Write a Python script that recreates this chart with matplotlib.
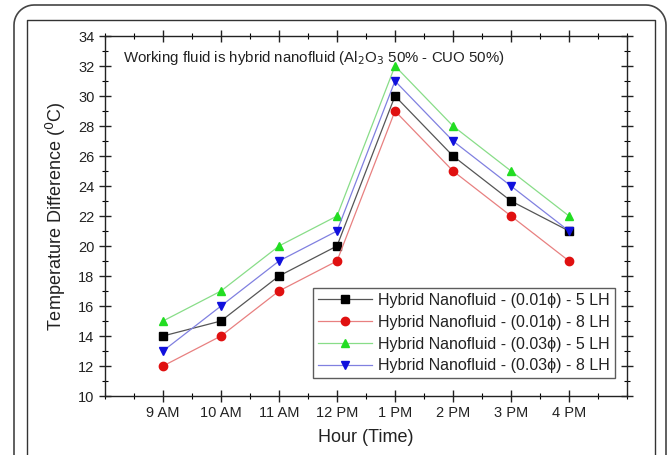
import matplotlib
matplotlib.use("Agg")
import matplotlib.pyplot as plt
from matplotlib.patches import PathPatch
from matplotlib.path import Path
from matplotlib.lines import Line2D
from matplotlib.ticker import MultipleLocator, FixedLocator
import numpy as np

plt.rcParams['font.family'] = ['Liberation Sans', 'DejaVu Sans']

hours = ["9 AM", "10 AM", "11 AM", "12 PM", "1 PM", "2 PM", "3 PM", "4 PM"]
s_001_5 = [14, 15, 18, 20, 30, 26, 23, 21]
s_001_8 = [12, 14, 17, 19, 29, 25, 22, 19]
s_003_5 = [15, 17, 20, 22, 32, 28, 25, 22]
s_003_8 = [13, 16, 19, 21, 31, 27, 24, 21]
labels = ["Hybrid Nanofluid - (0.01\u03d5) - 5 LH",
          "Hybrid Nanofluid - (0.01\u03d5) - 8 LH",
          "Hybrid Nanofluid - (0.03\u03d5) - 5 LH",
          "Hybrid Nanofluid - (0.03\u03d5) - 8 LH"]

W, H = 671, 455
fig = plt.figure(figsize=(W / 100, H / 100), dpi=100)

# outer rounded frame (pixel coordinates, y down) drawn as a path
def px(xp, yp):
    return (xp / W, 1 - yp / H)

L, R, T, B, r = 14, 666, 5, 470, 20
th = np.linspace(np.pi, np.pi / 2, 12)
pts = [px(L, B)]
pts += [px(L + r + r * np.cos(t), T + r - r * np.sin(t)) for t in th]
th2 = np.linspace(np.pi / 2, 0, 12)
pts += [px(R - r + r * np.cos(t), T + r - r * np.sin(t)) for t in th2]
pts += [px(R, B)]
fig.patches.append(PathPatch(Path(pts), transform=fig.transFigure, fill=False,
                             edgecolor="#444444", linewidth=1.2))
# inner rectangle frame
IL, IR, IT, IB = 27, 655, 20, 470
fig.add_artist(Line2D([IL / W, IL / W, IR / W, IR / W],
                      [1 - IB / H, 1 - IT / H, 1 - IT / H, 1 - IB / H],
                      transform=fig.transFigure, color="#333333", linewidth=1.0))

ax = fig.add_axes([105 / W, 1 - 396 / H, (627 - 105) / W, (396 - 36) / H])
x = list(range(1, len(hours) + 1))

series = [(s_001_5, "black", "s", "#555555"),
          (s_001_8, "#e01010", "o", "#e88080"),
          (s_003_5, "#22dd22", "^", "#88dd88"),
          (s_003_8, "#1010dd", "v", "#8080e0")]
for (vals, mc, mk, lc), lab in zip(series, labels):
    ax.plot(x, vals, color=lc, linewidth=0.9, marker=mk, markersize=6,
            markerfacecolor=mc, markeredgecolor=mc, label=lab)

ax.set_xlim(0, 9)
ax.set_ylim(10, 34)
ax.xaxis.set_major_locator(FixedLocator(x))
ax.set_xticklabels(hours)
ax.xaxis.set_minor_locator(FixedLocator([i + 0.5 for i in range(0, 9)] + [0, 9]))
ax.yaxis.set_major_locator(MultipleLocator(2))
ax.yaxis.set_minor_locator(MultipleLocator(1))
ax.tick_params(which='major', direction='inout', length=8, width=1.0,
               top=True, right=True, labelsize=10.5, colors='#222222')
ax.tick_params(which='minor', direction='inout', length=4, width=0.8,
               top=True, right=True)
for sp in ax.spines.values():
    sp.set_linewidth(1.0)
    sp.set_color('#222222')

ax.set_xlabel("Hour (Time)", fontsize=13, labelpad=6, color='#222222')
ax.set_ylabel("Temperature Difference ($^0$C)", fontsize=13, labelpad=7, color='#222222')

ax.text(0.035, 0.94, "Working fluid is hybrid nanofluid (Al$_2$O$_3$ 50% - CUO 50%)",
        transform=ax.transAxes, fontsize=10.8, va='center', ha='left', color='#222222')

leg = ax.legend(loc='lower right', bbox_to_anchor=(0.977, 0.05), fontsize=11.5,
                frameon=True, fancybox=False, edgecolor='#333333',
                handlelength=3.4, borderpad=0.3, labelspacing=0.42,
                handletextpad=0.4, borderaxespad=0)
leg.get_frame().set_linewidth(1.0)
for t in leg.get_texts():
    t.set_color('#222222')

fig.savefig("out.png", dpi=100)
